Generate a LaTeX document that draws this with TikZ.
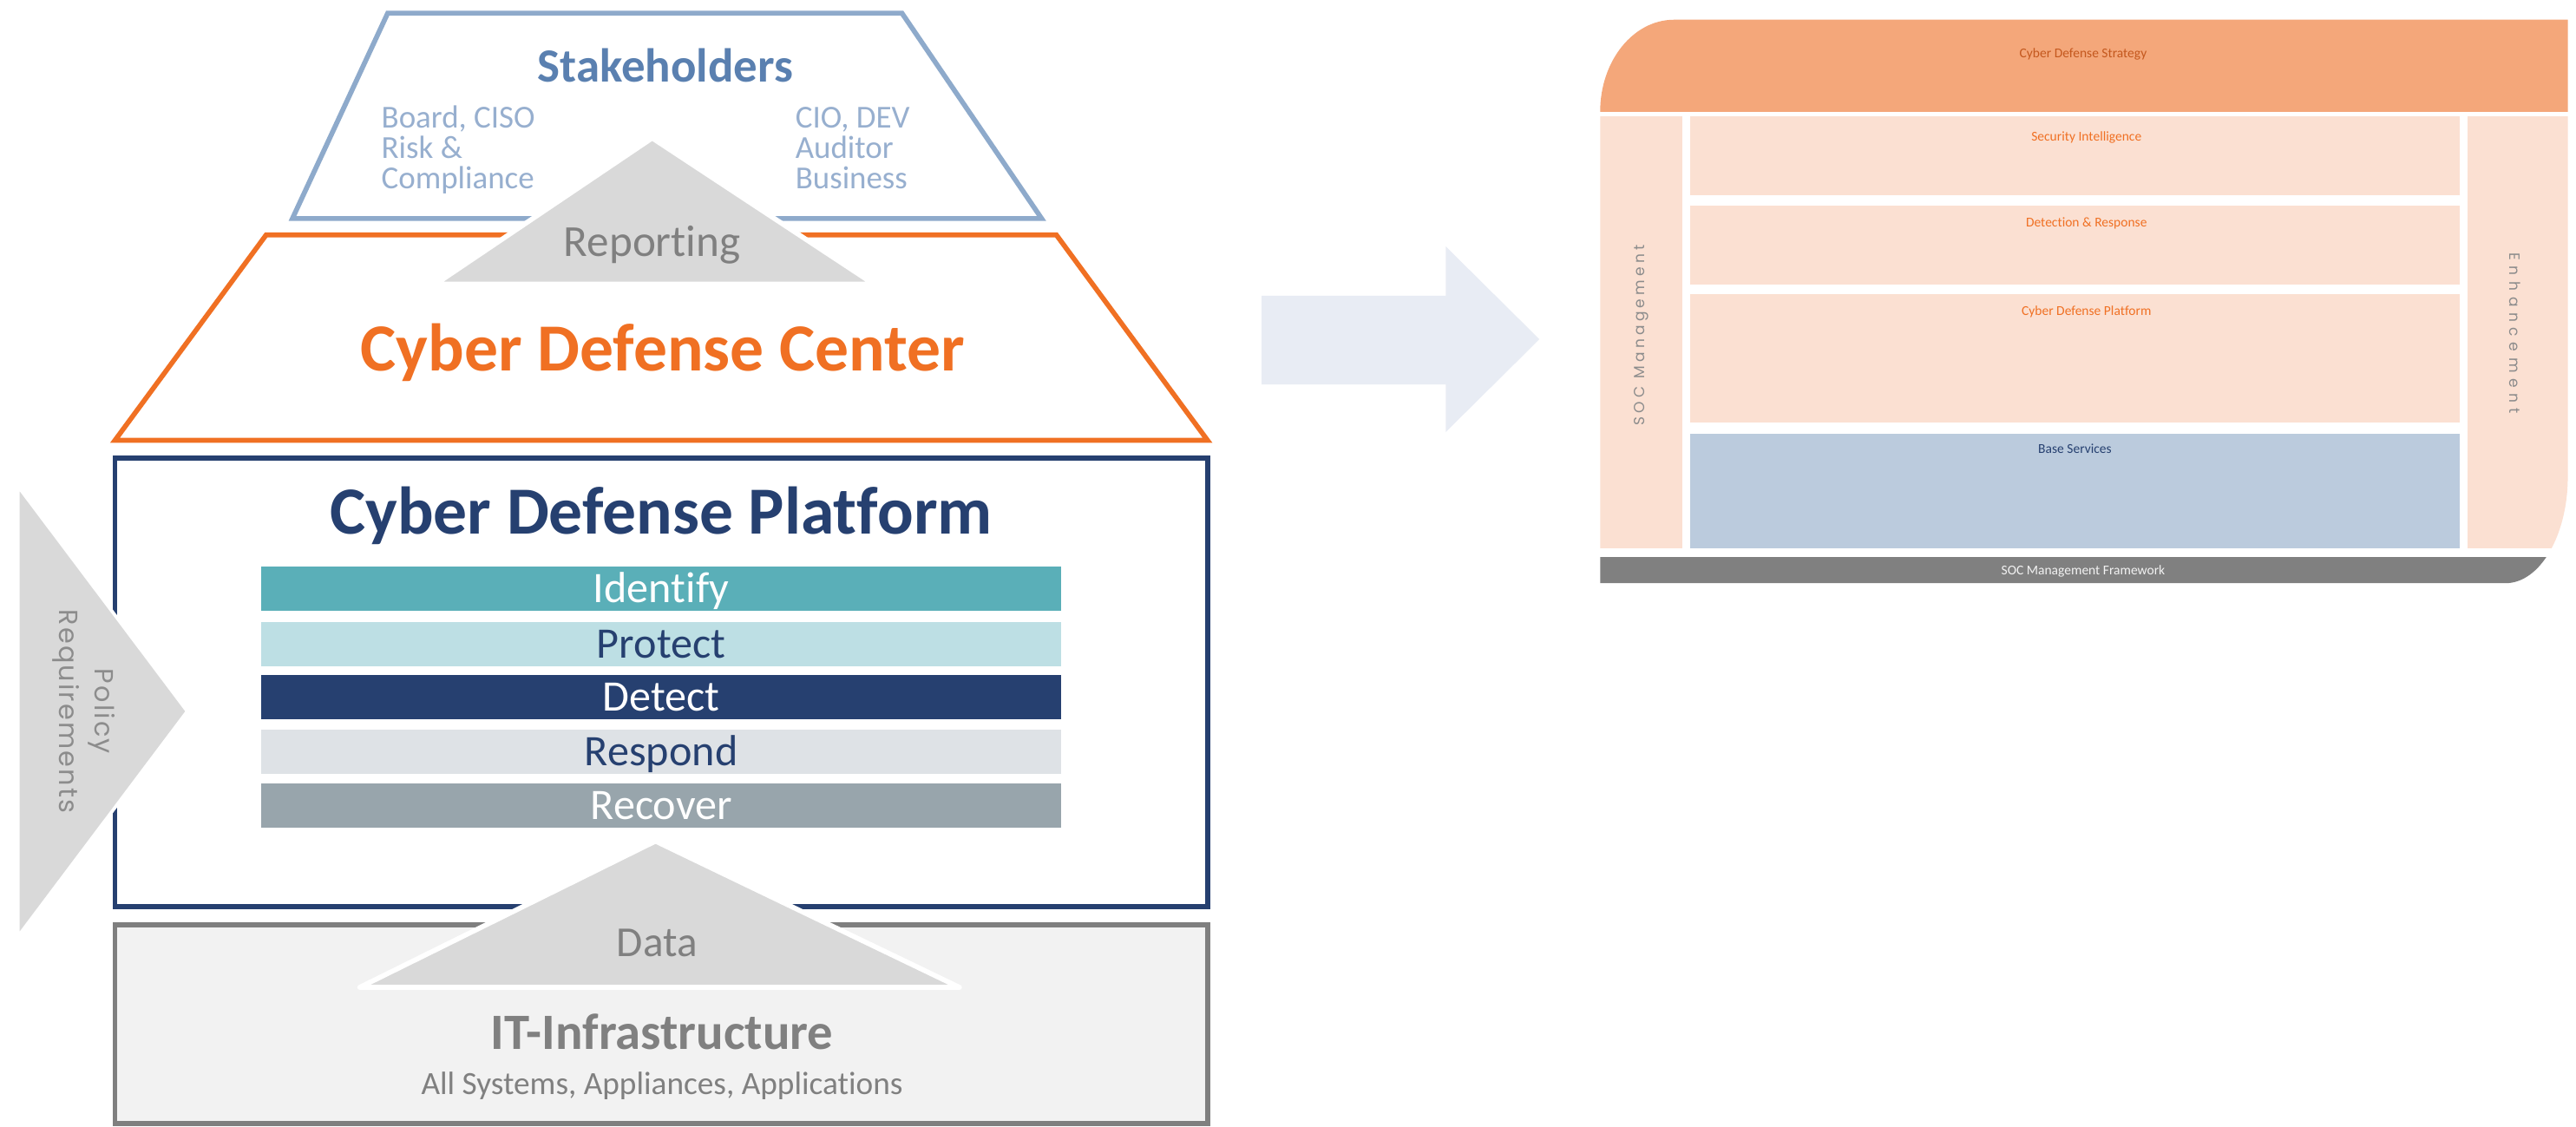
\documentclass[tikz,border=0pt]{standalone}
\usepackage{fontspec}
\setmainfont{Carlito}[Ligatures=NoCommon]
\newfontfamily\geoA[LetterSpace=7]{Poppins}
\newfontfamily\geoB[LetterSpace=25]{Poppins}
\newfontfamily\geoC[LetterSpace=39]{Poppins}
\definecolor{stkLine}{HTML}{8EAACB}
\definecolor{stkTitle}{HTML}{5A80B0}
\definecolor{stkText}{HTML}{97AFCF}
\definecolor{orgC}{HTML}{F07023}
\definecolor{navyC}{HTML}{264070}
\definecolor{tealC}{HTML}{5AAFB8}
\definecolor{ltealC}{HTML}{BDDFE4}
\definecolor{respC}{HTML}{DEE2E6}
\definecolor{recC}{HTML}{98A5AC}
\definecolor{triGray}{HTML}{D9D9D9}
\definecolor{txtGray}{HTML}{808080}
\definecolor{itFill}{HTML}{F2F2F2}
\definecolor{itLine}{HTML}{7F7F7F}
\definecolor{arrowC}{HTML}{E8ECF4}
\definecolor{bandC}{HTML}{F4A77A}
\definecolor{paleC}{HTML}{FBE0D2}
\definecolor{baseC}{HTML}{BBCBDD}
\definecolor{stratTxt}{HTML}{C4581E}
\definecolor{fwC}{HTML}{808080}
\definecolor{vertTxt}{HTML}{8C8C8C}
\tikzset{
  fs/.style={font=\fontsize{#1}{#1}\selectfont},
  txt/.style={inner sep=0pt, anchor=base},
  barbox/.style={minimum width=487pt, minimum height=27pt, inner sep=0pt, draw=none},
  whiteedge/.style={draw=white, line width=3pt, line join=round, fill=triGray},
}
\begin{document}
\begin{tikzpicture}[x=1pt,y=-1pt]
\useasboundingbox[fill=white] (0,0) rectangle (1568,686);

% ---------- left diagram ----------
\draw[stkLine, line width=3pt, fill=white] (236,8) -- (549,8) -- (634,133) -- (178,133) -- cycle;
\draw[orgC, line width=3pt, fill=white] (162,143) -- (643,143) -- (735,268) -- (70,268) -- cycle;
\draw[whiteedge] (397,84) -- (532,173) -- (265,173) -- cycle;

\draw[navyC, line width=3pt] (70,279) rectangle (735,552);
\draw[itLine, line width=3pt, fill=itFill] (70,563) rectangle (735,684);
\draw[whiteedge] (399,512) -- (584,601) -- (219,601) -- cycle;
\draw[draw=white, line width=2pt, line join=round, fill=triGray] (11,296) -- (114,433) -- (11,570) -- cycle;

\node[txt, fs=29, text=stkTitle] (stk) at (405,50) {\bfseries Stakeholders};
\node[txt, anchor=base west, fs=19.5, text=stkText] (b1) at (232,78) {Board, CISO};
\node[txt, anchor=base west, fs=19.5, text=stkText] (b2) at (232,96.5) {Risk \&};
\node[txt, anchor=base west, fs=19.5, text=stkText] (b3) at (232,115) {Compliance};
\node[txt, anchor=base west, fs=19.5, text=stkText] (c1) at (484,78) {CIO, DEV};
\node[txt, anchor=base west, fs=19.5, text=stkText] (c2) at (484,96.5) {Auditor};
\node[txt, anchor=base west, fs=19.5, text=stkText] (c3) at (484,115) {Business};
\node[txt, fs=27, text=txtGray] (rep) at (397,156) {Reporting};
\node[txt, fs=41, text=orgC] (cdc) at (403.5,226) {\bfseries Cyber Defense Center};
\node[txt, fs=41, text=navyC] (cdp) at (402.5,325) {\bfseries Cyber Defense Platform};

\node[barbox, fill=tealC]  (b-id) at (402.5,358.5) {};
\node[barbox, fill=ltealC] (b-pr) at (402.5,392) {};
\node[barbox, fill=navyC]  (b-de) at (402.5,424.5) {};
\node[barbox, fill=respC]  (b-rs) at (402.5,457.5) {};
\node[barbox, fill=recC]   (b-rc) at (402.5,490.5) {};
\node[txt, fs=26.5, text=white] (t-id) at ([yshift=-8.4pt]b-id.center) {Identify};
\node[txt, fs=26.5, text=navyC] (t-pr) at ([yshift=-8.4pt]b-pr.center) {Protect};
\node[txt, fs=26.5, text=white] (t-de) at ([yshift=-8.4pt]b-de.center) {Detect};
\node[txt, fs=26.5, text=navyC] (t-rs) at ([yshift=-8.4pt]b-rs.center) {Respond};
\node[txt, fs=26.5, text=white] (t-rc) at ([yshift=-8.4pt]b-rc.center) {Recover};

\node[txt, fs=26, text=txtGray] (data) at (400,582) {Data};
\node[txt, fs=31, text=txtGray] (it) at (403,639) {\bfseries IT-Infrastructure};
\node[txt, fs=19.7, text=txtGray] (its) at (403,666) {All Systems, Appliances, Applications};

\node[inner sep=0pt, rotate=-90, align=center, text=vertTxt,
      font=\geoA\fontsize{16}{22}\selectfont] (pol) at (51,433) {Policy\\Requirements};

% ---------- arrow ----------
\fill[arrowC] (768,180) -- (880,180) -- (880,150) -- (937,206.5) -- (880,263) -- (880,234) -- (768,234) -- cycle;

% ---------- right diagram ----------
\begin{scope}
\clip (974,68) .. controls (974,37.1) and (994.1,12) .. (1019,12)
  -- (1563,12) -- (1563,290)
  .. controls (1563,325.9) and (1546,355) .. (1525,355)
  -- (974,355) -- cycle;
\fill[bandC] (970,8) rectangle (1570,68);
\fill[paleC] (970,71) rectangle (1024,334);
\fill[paleC] (1502,71) rectangle (1570,334);
\fill[paleC] (1029,71) rectangle (1497,119);
\fill[paleC] (1029,125) rectangle (1497,173);
\fill[paleC] (1029,179) rectangle (1497,257);
\fill[baseC] (1029,264) rectangle (1497,334);
\fill[fwC] (970,339) rectangle (1570,360);
\end{scope}

\node[txt, fs=8.2, text=stratTxt] (strat) at (1268,35) {Cyber Defense Strategy};
\node[txt, fs=8.2, text=orgC] (si) at (1270,86) {Security Intelligence};
\node[txt, fs=8.2, text=orgC] (dr) at (1270,138) {Detection \& Response};
\node[txt, fs=8.2, text=orgC] (cdp2) at (1270,192) {Cyber Defense Platform};
\node[txt, fs=8.2, text=navyC] (bs) at (1263,276) {Base Services};
\node[txt, fs=8.2, text=itFill] (fw) at (1268,350) {SOC Management Framework};
\node[inner sep=0pt, rotate=90, text=vertTxt, font=\geoB\fontsize{9}{9}\selectfont] (socm) at (999,204) {SOC Management};
\node[inner sep=0pt, rotate=-90, text=vertTxt, font=\geoC\fontsize{9}{9}\selectfont] (enh) at (1531,203) {Enhancement};
\end{tikzpicture}
\end{document}
